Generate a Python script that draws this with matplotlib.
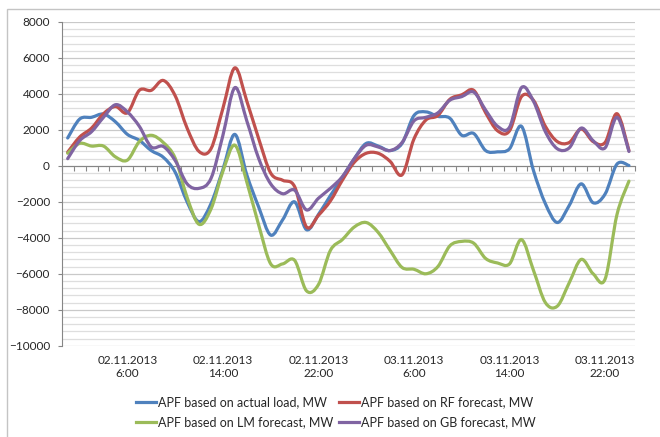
import numpy as np
import matplotlib
matplotlib.use("Agg")
import matplotlib.pyplot as plt
from matplotlib.path import Path
from matplotlib.patches import PathPatch, Rectangle
from matplotlib.lines import Line2D
from matplotlib.ticker import MultipleLocator

plt.rcParams['font.family'] = ['Lato', 'DejaVu Sans']

# ---- hourly values, 02.11.2013 1:00 ... 04.11.2013 0:00 (MW) ----
actual_load = [1550, 2600, 2700, 2880, 2450, 1750, 1420, 850, 480, -350,
               -2000, -3100, -2100, -200, 1750, -500, -2300, -3850, -3000, -2000,
               -3550, -2700, -1650, -650, 400, 1250, 1100, 850, 1250, 2800,
               3000, 2750, 2650, 1700, 1800, 850, 780, 950, 2200, -250,
               -2100, -3150, -2200, -1000, -2050, -1570, 100, 20]
rf_forecast = [760, 1600, 2100, 2900, 3300, 2950, 4200, 4200, 4750, 3900,
               2100, 800, 950, 3200, 5450, 3600, 1500, -400, -800, -1150,
               -3400, -2750, -1950, -800, 200, 700, 700, 250, -500, 1500,
               2550, 2800, 3700, 3950, 4200, 2950, 1950, 1950, 3850, 3650,
               2200, 1350, 1300, 2050, 1350, 1300, 2900, 850]
lm_forecast = [700, 1250, 1100, 1100, 500, 320, 1350, 1700, 1300, 430,
               -1750, -3250, -2400, -300, 1150, -900, -3300, -5450, -5450, -5250,
               -6950, -6600, -4700, -4100, -3400, -3150, -3700, -4700, -5650, -5750,
               -6000, -5600, -4450, -4200, -4300, -5150, -5400, -5450, -4100, -5800,
               -7600, -7800, -6500, -5200, -6000, -6300, -2700, -850]
gb_forecast = [400, 1400, 1900, 2700, 3400, 3000, 2200, 1050, 1080, 300,
               -1000, -1250, -700, 1700, 4350, 2500, 400, -1000, -1550, -1350,
               -2450, -1800, -1250, -600, 400, 1150, 1050, 850, 1300, 2500,
               2700, 2950, 3650, 3850, 4100, 3100, 2200, 2150, 4350, 3600,
               1900, 950, 1000, 2100, 1400, 1000, 2700, 800]

label_hours = [5, 13, 21, 29, 37, 45]
label_texts = ["02.11.2013\n6:00", "02.11.2013\n14:00", "02.11.2013\n22:00",
               "03.11.2013\n6:00", "03.11.2013\n14:00", "03.11.2013\n22:00"]

series = [
    ("APF based on actual load, MW", actual_load, "#4F81BD"),
    ("APF based on RF forecast, MW", rf_forecast, "#C0504D"),
    ("APF based on LM forecast, MW", lm_forecast, "#9BBB59"),
    ("APF based on GB forecast, MW", gb_forecast, "#8064A2"),
]


def smooth_path(x, y):
    # Excel-like smoothed line: cubic bezier through every point
    pts = np.column_stack([x, y]).astype(float)
    p = np.vstack([pts[:1], pts, pts[-1:]])
    verts = [pts[0]]
    for i in range(1, len(p) - 2):
        c1 = p[i] + (p[i + 1] - p[i - 1]) / 6
        c2 = p[i + 1] - (p[i + 2] - p[i]) / 6
        verts += [c1, c2, p[i + 1]]
    codes = [Path.MOVETO] + [Path.CURVE4] * (len(verts) - 1)
    return Path(verts, codes)


fig = plt.figure(figsize=(6.6, 4.37), dpi=100)
ax = fig.add_axes([0.0935, 0.2089, 0.8685, 0.7408])

# chart area border (cropped on right / bottom)
fig.patches.append(Rectangle((7 / 660, -0.1), 1.2, 1 - 9 / 437 + 0.1,
                             transform=fig.transFigure, fill=False,
                             edgecolor="#c4c4c4", lw=1.0))

hours = np.arange(len(actual_load))
handles = []
for name, vals, col in series:
    ax.add_patch(PathPatch(smooth_path(hours, vals), fill=False, edgecolor=col,
                           lw=2.3, capstyle="round", joinstyle="round", zorder=3))
    handles.append(Line2D([], [], color=col, lw=2.3, label=name))

ax.set_xlim(-0.5, len(hours) - 0.5)
ax.set_ylim(-10000, 8000)
ax.yaxis.set_major_locator(MultipleLocator(2000))
ax.yaxis.set_minor_locator(MultipleLocator(400))
ax.grid(which="major", axis="y", color="#c9c9c9", lw=0.9, zorder=0)
ax.grid(which="minor", axis="y", color="#dedede", lw=0.9, zorder=0)
ax.set_axisbelow(True)

for s in ["top", "right"]:
    ax.spines[s].set_visible(False)
ax.spines["left"].set_color("#868686")
ax.spines["bottom"].set_position(("data", 0))
ax.spines["bottom"].set_color("#868686")

ax.set_xticks(np.arange(-0.5, len(hours), 1))
ax.tick_params(axis="x", which="major", length=3.5, color="#868686",
               direction="out", labelbottom=False)
ax.tick_params(axis="y", which="major", length=3, color="#868686",
               pad=5.5, labelsize=8.5, labelcolor="#262626")
ax.tick_params(axis="y", which="minor", length=0)

sec = ax.secondary_xaxis("bottom")
sec.set_xticks(label_hours, label_texts)
sec.tick_params(length=0, pad=7, labelsize=8.5, labelcolor="#262626")
sec.spines["bottom"].set_visible(False)

order = [0, 2, 1, 3]
fig.legend([handles[i] for i in order], [handles[i].get_label() for i in order],
           loc="center", bbox_to_anchor=(0.509, 0.056), ncol=2, frameon=False,
           fontsize=9, handlelength=1.6, handletextpad=0.15,
           columnspacing=0.5, labelspacing=0.65, labelcolor="#262626")

fig.savefig("out.png", dpi=100)
